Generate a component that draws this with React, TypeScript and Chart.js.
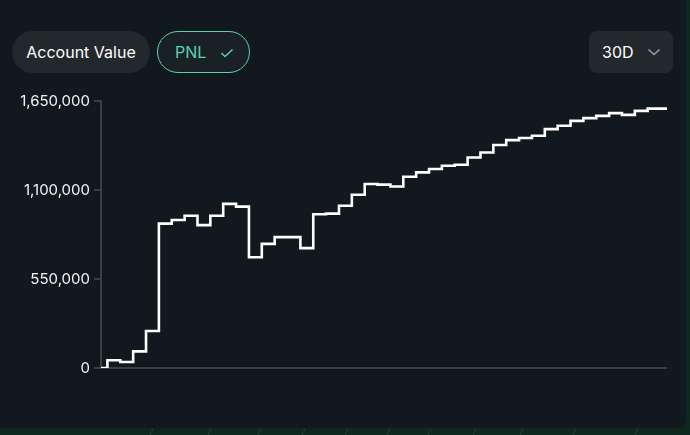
import React, { useEffect, useRef } from 'react';
import { Chart, registerables } from 'chart.js';

Chart.register(...registerables);

const labels: string[] = [
  '1', '2', '3', '4', '5', '6', '7', '8', '9', '10',
  '11', '12', '13', '14', '15', '16', '17', '18', '19', '20',
  '21', '22', '23', '24', '25', '26', '27', '28', '29', '30',
  '31', '32', '33', '34', '35', '36', '37', '38', '39', '40',
  '41', '42', '43', '44', '45',
];

const pnlValues: number[] = [
  0, 47500, 37000, 103000, 229000, 892000, 915000, 941000, 883000, 941000,
  1014000, 997000, 684000, 767000, 809000, 809000, 741000, 950000, 954000, 1003000,
  1071000, 1137000, 1133000, 1122000, 1182000, 1209000, 1230000, 1250000, 1256000, 1301000,
  1332000, 1378000, 1408000, 1421000, 1435000, 1476000, 1497000, 1527000, 1544000, 1558000,
  1575000, 1564000, 1589000, 1603000, 1603000,
];

const yTicks: number[] = [0, 550000, 1100000, 1650000];

const AXIS = '#3a3f44';

export default function App() {
  const ref = useRef<HTMLCanvasElement>(null);

  useEffect(() => {
    const chart = new Chart(ref.current as HTMLCanvasElement, {
      type: 'line',
      data: {
        labels,
        datasets: [
          {
            data: pnlValues,
            borderColor: '#ffffff',
            borderWidth: 2.6,
            stepped: 'middle',
            pointRadius: 0,
            fill: false,
            tension: 0,
          },
        ],
      },
      options: {
        animation: false,
        responsive: false,
        maintainAspectRatio: false,
        layout: { padding: { top: 12, bottom: 15, right: 19, left: 0 } },
        plugins: { legend: { display: false }, tooltip: { enabled: false } },
        scales: {
          x: { display: false },
          y: {
            min: 0,
            max: 1650000,
            afterFit: (s: any) => {
              s.width = 101;
            },
            afterBuildTicks: (s: any) => {
              s.ticks = yTicks.map((v) => ({ value: v }));
            },
            ticks: {
              color: '#f2f4f5',
              font: { family: 'Inter', size: 15 },
              padding: 4,
              callback: (v: any) => Number(v).toLocaleString('en-US'),
            },
            grid: {
              color: (ctx: any) => (ctx.tick && ctx.tick.value === 0 ? AXIS : 'rgba(0,0,0,0)'),
              tickColor: AXIS,
              lineWidth: 2,
              tickLength: 7,
            },
            border: { display: true, color: AXIS, width: 2 },
          },
        },
      },
    } as any);
    return () => chart.destroy();
  }, []);

  const slashes = [150, 208, 258, 302, 345, 387, 428, 473, 520, 573, 635];

  return (
    <div
      style={{
        position: 'fixed',
        left: 0,
        top: 0,
        width: 690,
        height: 435,
        background: '#0e2820',
        fontFamily: 'Inter, sans-serif',
        overflow: 'hidden',
      }}
    >
      <svg width={690} height={435} style={{ position: 'absolute', left: 0, top: 0 }}>
        {slashes.map((x) => (
          <line key={x} x1={x} y1={436} x2={x + 3} y2={428} stroke="rgba(110,150,130,0.2)" strokeWidth={1} />
        ))}
      </svg>
      <div
        style={{
          position: 'absolute',
          left: 0,
          top: 0,
          width: 686,
          height: 428,
          background: '#12191e',
          borderBottomRightRadius: 8,
        }}
      />
      <div
        style={{
          position: 'absolute',
          left: 12,
          top: 31,
          width: 138,
          height: 42,
          borderRadius: 21,
          background: '#23282c',
          color: '#ffffff',
          fontSize: 16,
          display: 'flex',
          alignItems: 'center',
          justifyContent: 'center',
        }}
      >
        Account Value
      </div>
      <div
        style={{
          position: 'absolute',
          left: 157,
          top: 31,
          width: 93,
          height: 42,
          boxSizing: 'border-box',
          borderRadius: 21,
          border: '1.5px solid #5ccfb9',
          background: '#1a2125',
          color: '#5ccfb9',
          fontSize: 16,
        }}
      >
        <span style={{ position: 'absolute', left: 17, top: 10 }}>PNL</span>
        <svg width={14} height={10} style={{ position: 'absolute', left: 62, top: 16 }}>
          <polyline points="1.5,5 5,8.5 12.5,1.5" fill="none" stroke="#5ccfb9" strokeWidth={1.4} />
        </svg>
      </div>
      <div
        style={{
          position: 'absolute',
          left: 589,
          top: 31,
          width: 84,
          height: 42,
          borderRadius: 8,
          background: '#23282c',
          color: '#ffffff',
          fontSize: 16,
        }}
      >
        <span style={{ position: 'absolute', left: 13, top: 11 }}>30D</span>
        <svg width={14} height={9} style={{ position: 'absolute', left: 58, top: 17 }}>
          <polyline points="1.5,1.5 7,6.5 12.5,1.5" fill="none" stroke="#9aa1a8" strokeWidth={1.4} />
        </svg>
      </div>
      <canvas
        ref={ref}
        width={686}
        height={295}
        style={{ position: 'absolute', left: 0, top: 88, width: 686, height: 295 }}
      />
    </div>
  );
}
